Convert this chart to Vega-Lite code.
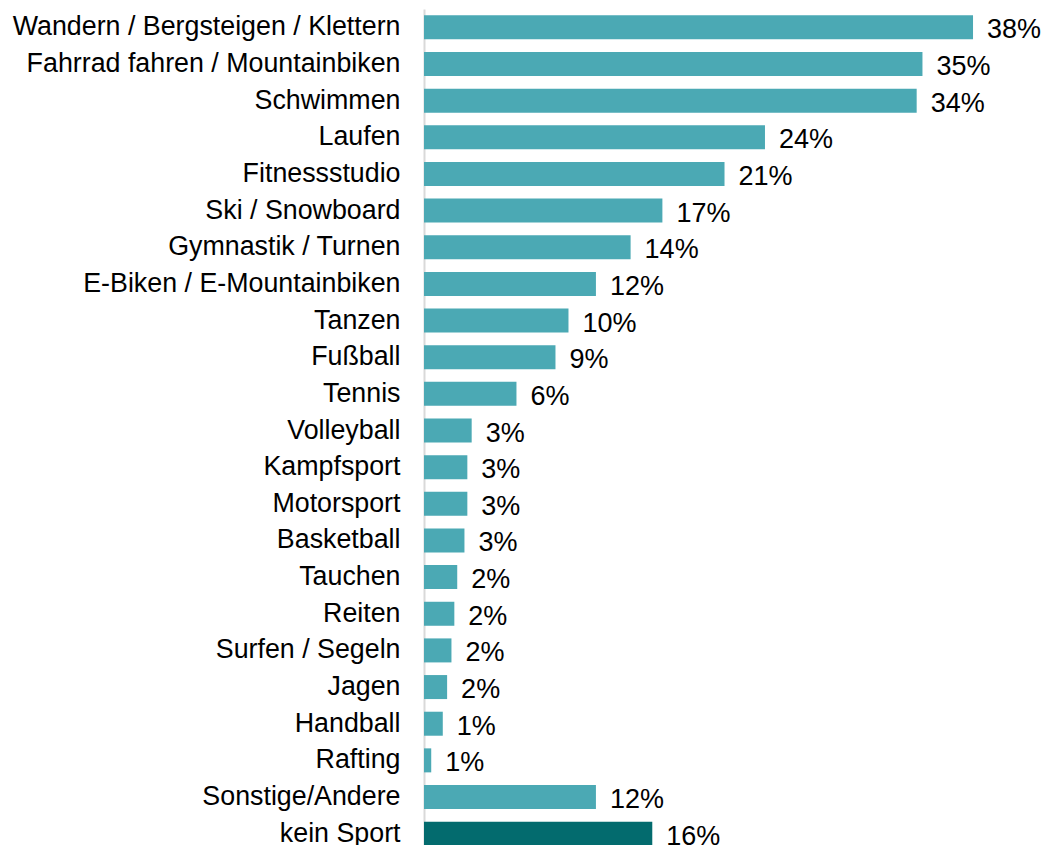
{
  "$schema": "https://vega.github.io/schema/vega-lite/v6.json",
  "width": 623,
  "height": 843,
  "autosize": {"type": "none"},
  "padding": {"left": 424, "top": 9, "right": 0, "bottom": 0},
  "background": "white",
  "config": {"view": {"stroke": null}, "font": "Liberation Sans"},
  "data": {
    "values": [
      {"sport": "Wandern / Bergsteigen / Klettern", "value": 38.0, "label": "38%", "group": "Sport"},
      {"sport": "Fahrrad fahren / Mountainbiken", "value": 34.5, "label": "35%", "group": "Sport"},
      {"sport": "Schwimmen", "value": 34.1, "label": "34%", "group": "Sport"},
      {"sport": "Laufen", "value": 23.6, "label": "24%", "group": "Sport"},
      {"sport": "Fitnessstudio", "value": 20.8, "label": "21%", "group": "Sport"},
      {"sport": "Ski / Snowboard", "value": 16.5, "label": "17%", "group": "Sport"},
      {"sport": "Gymnastik / Turnen", "value": 14.3, "label": "14%", "group": "Sport"},
      {"sport": "E-Biken / E-Mountainbiken", "value": 11.9, "label": "12%", "group": "Sport"},
      {"sport": "Tanzen", "value": 10.0, "label": "10%", "group": "Sport"},
      {"sport": "Fußball", "value": 9.1, "label": "9%", "group": "Sport"},
      {"sport": "Tennis", "value": 6.4, "label": "6%", "group": "Sport"},
      {"sport": "Volleyball", "value": 3.3, "label": "3%", "group": "Sport"},
      {"sport": "Kampfsport", "value": 3.0, "label": "3%", "group": "Sport"},
      {"sport": "Motorsport", "value": 3.0, "label": "3%", "group": "Sport"},
      {"sport": "Basketball", "value": 2.8, "label": "3%", "group": "Sport"},
      {"sport": "Tauchen", "value": 2.3, "label": "2%", "group": "Sport"},
      {"sport": "Reiten", "value": 2.1, "label": "2%", "group": "Sport"},
      {"sport": "Surfen / Segeln", "value": 1.9, "label": "2%", "group": "Sport"},
      {"sport": "Jagen", "value": 1.6, "label": "2%", "group": "Sport"},
      {"sport": "Handball", "value": 1.3, "label": "1%", "group": "Sport"},
      {"sport": "Rafting", "value": 0.5, "label": "1%", "group": "Sport"},
      {"sport": "Sonstige/Andere", "value": 11.9, "label": "12%", "group": "Sport"},
      {"sport": "kein Sport", "value": 15.8, "label": "16%", "group": "kein Sport"}
    ]
  },
  "encoding": {
    "y": {
      "field": "sport",
      "type": "nominal",
      "sort": null,
      "scale": {"paddingInner": 0.345, "paddingOuter": 0.1725},
      "axis": {
        "title": null,
        "ticks": false,
        "domainColor": "#d9d9d9",
        "domainWidth": 2,
        "labelFontSize": 26.8,
        "labelColor": "#000000",
        "labelPadding": 24,
        "labelFont": "Liberation Sans",
        "labelLimit": 600
      }
    },
    "x": {
      "field": "value",
      "type": "quantitative",
      "scale": {"domain": [0, 43.12], "nice": false},
      "axis": null
    }
  },
  "layer": [
    {
      "mark": {"type": "bar"},
      "encoding": {
        "color": {
          "field": "group",
          "type": "nominal",
          "scale": {"domain": ["Sport", "kein Sport"], "range": ["#4BA9B4", "#036B6E"]},
          "legend": null
        }
      }
    },
    {
      "mark": {"type": "text", "align": "left", "baseline": "middle", "dx": 14, "dy": 3, "fontSize": 27, "font": "Liberation Sans", "color": "#000000"},
      "encoding": {"text": {"field": "label"}}
    }
  ]
}
